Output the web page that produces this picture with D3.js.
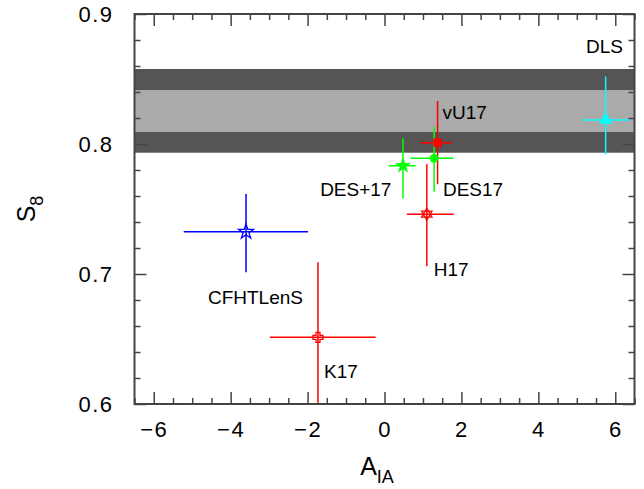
<!DOCTYPE html>
<html>
<head>
<meta charset="utf-8">
<script src="https://cdn.jsdelivr.net/npm/d3@7"></script>
<style>
  body { margin: 0; background: #fff; }
  text { font-family: "Liberation Sans", Arial, sans-serif; fill: #000; }
</style>
</head>
<body>
<svg width="644" height="489"></svg>
<script>
// survey results: intrinsic alignment amplitude vs S8
let surveys = ["DLS", "vU17", "DES17", "DES+17", "H17", "CFHTLenS", "K17"];
let aIA   = [5.75, 1.38, 1.29, 0.48, 1.10, -3.60, -1.73];
let aIAlo = [5.13, 0.94, 0.68, 0.11, 0.58, -5.22, -2.98];
let aIAhi = [6.36, 1.75, 1.79, 0.81, 1.80, -1.99, -0.23];
let s8    = [0.8185, 0.801, 0.789, 0.7833, 0.746, 0.7325, 0.6513];
let s8lo  = [0.792, 0.769, 0.7633, 0.758, 0.706, 0.7013, 0.58];
let s8hi  = [0.852, 0.833, 0.8133, 0.8044, 0.7844, 0.7615, 0.709];
let colors  = ["#00ffff", "#ff0000", "#00ff00", "#00ff00", "#ff0000", "#0000ff", "#ff0000"];
let markers = ["triangle", "square", "circle", "star", "hexagram", "openstar", "opencross"];

// where each name sits, in data units
let labelX = [5.24, 1.51, 1.52, 0.18, 1.28, -4.59, -1.57];
let labelY = [0.870, 0.8192, 0.7602, 0.760, 0.6985, 0.6769, 0.6198];
let labelAnchor = ["start", "start", "start", "end", "start", "start", "start"];

// Planck bands (outer and inner)
let bandOuter = [0.7933, 0.8577];
let bandInner = [0.8092, 0.8415];

let xMajor = [-6, -4, -2, 0, 2, 4, 6];
let yMajor = [0.6, 0.7, 0.8, 0.9];

let margin = {left: 134.5, right: 9.5, top: 14, bottom: 85};
let width = 644, height = 489;

let x = d3.scaleLinear().domain([-6.5, 6.5]).range([margin.left, width - margin.right]);
let y = d3.scaleLinear().domain([0.6, 0.9]).range([height - margin.bottom, margin.top]);

let svg = d3.select("svg");

// bands
svg.append("rect")
  .attr("x", x(-6.5)).attr("width", x(6.5) - x(-6.5))
  .attr("y", y(bandOuter[1])).attr("height", y(bandOuter[0]) - y(bandOuter[1]))
  .attr("fill", "#555555");
svg.append("rect")
  .attr("x", x(-6.5)).attr("width", x(6.5) - x(-6.5))
  .attr("y", y(bandInner[1])).attr("height", y(bandInner[0]) - y(bandInner[1]))
  .attr("fill", "#aaaaaa");

let plot = svg.append("g");
let clip = svg.append("clipPath").attr("id", "clip").append("rect")
  .attr("x", x(-6.5)).attr("y", y(0.9))
  .attr("width", x(6.5) - x(-6.5)).attr("height", y(0.6) - y(0.9));
plot.attr("clip-path", "url(#clip)");

let idx = d3.range(surveys.length);

// error bars
plot.selectAll("line.h").data(idx).enter().append("line")
  .attr("x1", i => x(aIAlo[i])).attr("x2", i => x(aIAhi[i]))
  .attr("y1", i => y(s8[i])).attr("y2", i => y(s8[i]))
  .attr("stroke", i => colors[i]).attr("stroke-width", 1.5);
plot.selectAll("line.v").data(idx).enter().append("line")
  .attr("x1", i => x(aIA[i])).attr("x2", i => x(aIA[i]))
  .attr("y1", i => y(s8lo[i])).attr("y2", i => y(s8hi[i]))
  .attr("stroke", i => colors[i]).attr("stroke-width", 1.5);

// marker shapes
let hexagram = function() {
  let r = 6, p = "";
  [-90, 90].forEach(function(a0) {
    let pts = [0, 120, 240].map(function(a) {
      let t = (a + a0) * Math.PI / 180;
      return [r * Math.cos(t), r * Math.sin(t)];
    });
    p += "M" + pts.join("L") + "Z";
  });
  return p;
};
let openCross = function() {
  let a = 2, b = 5;
  return "M" + [[-a,-b],[a,-b],[a,-a],[b,-a],[b,a],[a,a],[a,b],[-a,b],[-a,a],[-b,a],[-b,-a],[-a,-a]].join("L") + "Z";
};

let markerPath = function(m) {
  if (m == "triangle") return d3.symbol(d3.symbolTriangle, 70)();
  if (m == "square") return d3.symbol(d3.symbolSquare, 64)();
  if (m == "circle") return d3.symbol(d3.symbolCircle, 55)();
  if (m == "star") return d3.symbol(d3.symbolStar, 70)();
  if (m == "openstar") return d3.symbol(d3.symbolStar, 70)();
  if (m == "hexagram") return hexagram();
  return openCross();
};
let isOpen = function(m) { return m == "openstar" || m == "hexagram" || m == "opencross"; };

plot.selectAll("path.mk").data(idx).enter().append("path")
  .attr("d", i => markerPath(markers[i]))
  .attr("transform", i => "translate(" + x(aIA[i]) + "," + y(s8[i]) + ")")
  .attr("fill", i => isOpen(markers[i]) ? "none" : colors[i])
  .attr("stroke", i => colors[i])
  .attr("stroke-width", i => isOpen(markers[i]) ? 1.3 : 0.5);

// names
svg.selectAll("text.lbl").data(idx).enter().append("text")
  .attr("x", i => x(labelX[i])).attr("y", i => y(labelY[i]))
  .attr("text-anchor", i => labelAnchor[i])
  .attr("font-size", 19)
  .text(i => surveys[i]);

// axes, ticks pointing inward
let frameColor = "#444";
let xMinor = d3.range(-6.5, 6.51, 0.5).filter(v => xMajor.indexOf(v) < 0);
let yMinor = d3.range(0.62, 0.9, 0.02).filter(v => Math.abs(v * 10 - Math.round(v * 10)) > 0.01);

let styleAxis = function(g, fs) {
  g.select(".domain").remove();
  g.selectAll(".tick line").attr("stroke", frameColor).attr("stroke-width", 1.5);
  g.selectAll(".tick text").attr("font-size", fs).attr("font-family", "Liberation Sans, sans-serif")
    .attr("letter-spacing", 1.5);
};

svg.append("g").attr("transform", "translate(0," + y(0.6) + ")")
  .call(d3.axisBottom(x).tickValues(xMajor).tickSize(-12).tickPadding(17).tickFormat(d3.format("d")))
  .call(g => styleAxis(g, 22));
svg.append("g").attr("transform", "translate(0," + y(0.6) + ")")
  .call(d3.axisBottom(x).tickValues(xMinor).tickSize(-6).tickFormat(""))
  .call(g => styleAxis(g, 22));
svg.append("g").attr("transform", "translate(0," + y(0.9) + ")")
  .call(d3.axisTop(x).tickValues(xMajor).tickSize(-12).tickFormat(""))
  .call(g => styleAxis(g, 22));
svg.append("g").attr("transform", "translate(0," + y(0.9) + ")")
  .call(d3.axisTop(x).tickValues(xMinor).tickSize(-6).tickFormat(""))
  .call(g => styleAxis(g, 22));

svg.append("g").attr("transform", "translate(" + x(-6.5) + ",0)")
  .call(d3.axisLeft(y).tickValues(yMajor).tickSize(-12).tickPadding(21).tickFormat(d3.format(".1f")))
  .call(g => styleAxis(g, 22));
svg.append("g").attr("transform", "translate(" + x(-6.5) + ",0)")
  .call(d3.axisLeft(y).tickValues(yMinor).tickSize(-6).tickFormat(""))
  .call(g => styleAxis(g, 22));
svg.append("g").attr("transform", "translate(" + x(6.5) + ",0)")
  .call(d3.axisRight(y).tickValues(yMajor).tickSize(-12).tickFormat(""))
  .call(g => styleAxis(g, 22));
svg.append("g").attr("transform", "translate(" + x(6.5) + ",0)")
  .call(d3.axisRight(y).tickValues(yMinor).tickSize(-6).tickFormat(""))
  .call(g => styleAxis(g, 22));

// frame
svg.append("rect")
  .attr("x", x(-6.5)).attr("y", y(0.9))
  .attr("width", x(6.5) - x(-6.5)).attr("height", y(0.6) - y(0.9))
  .attr("fill", "none").attr("stroke", frameColor).attr("stroke-width", 2);

// axis titles
let xt = svg.append("text").attr("x", 377).attr("y", 475).attr("text-anchor", "middle").attr("font-size", 25);
xt.append("tspan").text("A");
xt.append("tspan").attr("font-size", 18).attr("dy", 8).text("IA");

let yt = svg.append("text").attr("transform", "translate(35," + ((y(0.6) + y(0.9)) / 2) + ") rotate(-90)")
  .attr("text-anchor", "middle").attr("font-size", 25);
yt.append("tspan").text("S");
yt.append("tspan").attr("font-size", 18).attr("dy", 8).text("8");
</script>
</body>
</html>
